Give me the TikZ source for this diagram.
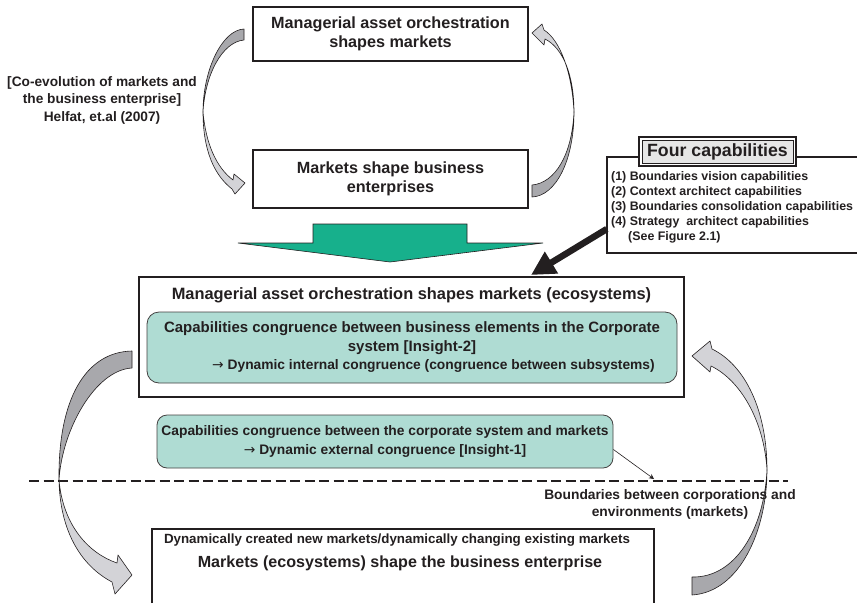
\documentclass[tikz,border=0pt]{standalone}
\usepackage{fontspec}
\setmainfont{Liberation Sans}
\newfontfamily\arrowfont{DejaVu Sans}
\usetikzlibrary{arrows.meta}
\definecolor{ink}{HTML}{231F20}
\definecolor{tealfill}{HTML}{AFDCD3}
\definecolor{greenarrow}{HTML}{17B08C}
\definecolor{ribbondark}{HTML}{A8A8AC}
\definecolor{ribbonlight}{HTML}{D3D3D7}
\definecolor{titlefill}{HTML}{E6E6E6}
\newcommand{\fsz}[2]{\fontsize{#1}{#2}\selectfont\bfseries}
\newcommand{\rarr}{{\arrowfont\mdseries →}}

\begin{document}
\begin{tikzpicture}[x=1pt,y=-1pt,
  every node/.style={text=ink, inner sep=0pt},
  framebox/.style={draw=ink, line width=1.8pt, fill=white},
  tealbox/.style={draw=ink!85, line width=0.8pt, fill=tealfill, rounded corners=12pt},
  ribbonback/.style={fill=ribbondark, draw=ink, line width=0.6pt, line join=round},
  ribbonfront/.style={fill=ribbonlight, draw=ink, line width=0.6pt, line join=round},
  rule/.style={draw=ink, line width=1.8pt}]
\useasboundingbox (0,0) rectangle (857,603);

% ---------- upper loop: co-evolution ----------
\node[framebox, minimum width=275pt, minimum height=54pt, align=center,
      font={\fsz{16.2}{19}}] (mao) at (390.5,34)
      {Managerial asset orchestration\\shapes markets};
\node[framebox, minimum width=275pt, minimum height=58pt, align=center,
      font={\fsz{16.2}{19}}] (msb) at (390.5,179)
      {Markets shape business\\enterprises};
\node[align=center, font={\fsz{13.7}{17.5}}] (coevo) at (102,100)
      {[Co-evolution of markets and\\the business enterprise]\\Helfat, et.al (2007)};

% left ribbon: top box -> second box
\path[ribbonback] (244,29) .. controls (222,30) and (203,70) .. (203,112)
      .. controls (205,75) and (222,42) .. (244,40) -- cycle;
\path[ribbonfront] (203,112) .. controls (203,150) and (214,175) .. (232,189)
      -- (235,194) -- (245,183) -- (234,174) -- (233,180)
      .. controls (217,168) and (206,145) .. (203,112) -- cycle;

% right ribbon: second box -> top box
\path[ribbonback] (532,197) .. controls (556,196) and (574,160) .. (574,112)
      .. controls (572,155) and (555,183) .. (532,185) -- cycle;
\path[ribbonfront] (574,112) .. controls (574,75) and (563,48) .. (545,39)
      -- (544,45) -- (532,33) -- (542,24) -- (544,30)
      .. controls (560,40) and (572,72) .. (574,112) -- cycle;

% broad green arrow
\path[fill=greenarrow, draw=ink, line width=0.6pt]
  (238,243) -- (313,243) -- (313,224) -- (467,224) -- (467,243)
  -- (543,243) -- (390,262) -- cycle;

% ---------- four capabilities ----------
\node[minimum width=250pt, minimum height=96pt] (four) at (732,205) {};
\draw[rule] (four.north east) -- (four.north west) -- (four.south west) -- (four.south east);
\node[draw=ink, line width=1.3pt, fill=white, minimum width=157pt, minimum height=29pt]
      (fourframe) at (717.5,151.5) {};
\node[draw=ink, line width=0.6pt, fill=titlefill, minimum width=151pt, minimum height=23pt,
      font={\fsz{17.7}{20}}] (fourtitle) at (fourframe) {Four capabilities};
\node[anchor=west, align=left, font={\fsz{12.4}{15}}] (fourlist) at (611,207)
      {(1) Boundaries vision capabilities\\(2) Context architect capabilities\\
       (3) Boundaries consolidation capabilities\\(4) Strategy\ \ architect capabilities\\
       \hspace*{17pt}(See Figure 2.1)};

% ---------- ecosystem box ----------
\node[framebox, minimum width=545pt, minimum height=120pt] (eco) at (411.5,337) {};
\node[font={\fsz{16.4}{19}}] (ecohead) at (411.5,295)
      {Managerial asset orchestration shapes markets (ecosystems)};
\node[tealbox, minimum width=530pt, minimum height=71pt, align=center,
      font={\fsz{15}{18.5}}] (insight2) at (412,347.5)
      {Capabilities congruence between business elements in the Corporate\\
       system [Insight-2]\\
       \hspace*{43pt}{\fontsize{13.8}{18.5}\selectfont\rarr\ Dynamic internal congruence (congruence between subsystems)}};

\coordinate (fourtip) at (531,275);
\draw[ink, line width=6.5pt, -{Triangle[length=24pt,width=24pt]}]
  ([yshift=-24pt]four.west) -- (fourtip);

\node[tealbox, rounded corners=10pt, minimum width=456pt, minimum height=53pt,
      align=center, font={\fsz{13.8}{19.7}}] (insight1) at (385,441.5)
      {Capabilities congruence between the corporate system and markets\\
       \rarr\ Dynamic external congruence [Insight-1]};

% ---------- boundary ----------
\coordinate (bl) at (29,481);
\coordinate (br) at (788,481);
\draw[ink, line width=2.4pt, dash pattern=on 10pt off 4.5pt] (bl) -- (br);
\coordinate (bmark) at (654,479);
\draw[ink, line width=0.6pt, -{Stealth[length=5pt,width=5pt]}]
  ([yshift=-8pt]insight1.east) -- (bmark);

% ---------- market box ----------
\node[minimum width=502pt, minimum height=74pt] (mkt) at (403,566) {};
\draw[rule] (mkt.south west) -- (mkt.north west) -- (mkt.north east) -- (mkt.south east);
\node[font={\fsz{13.35}{16}}] (dyn) at (397,540)
      {Dynamically created new markets/dynamically changing existing markets};
\node[font={\fsz{16.1}{19}}] (mse) at (400,563)
      {Markets (ecosystems) shape the business enterprise};

% lower ribbons
\path[ribbonback] (132,351) .. controls (85,352) and (58,400) .. (59,480)
      .. controls (62,430) and (95,370) .. (132,368) -- cycle;
\path[ribbonfront] (59,480) .. controls (60,530) and (80,565) .. (112,582)
      -- (115,594) -- (132,575) -- (118,555) -- (117,563)
      .. controls (88,553) and (63,525) .. (59,480) -- cycle;

\path[ribbonback] (692,595) .. controls (740,592) and (767,530) .. (767,470)
      .. controls (764,530) and (735,578) .. (692,577) -- cycle;
\path[ribbonfront] (767,470) .. controls (767,410) and (745,365) .. (712,349)
      -- (710,341) -- (692,356) -- (710,372) -- (711,366)
      .. controls (740,380) and (764,420) .. (767,470) -- cycle;

\node[align=center, font={\fsz{13.8}{17}}] (bnd) at (670,504.5)
      {Boundaries between corporations and\\environments (markets)};
\end{tikzpicture}
\end{document}
